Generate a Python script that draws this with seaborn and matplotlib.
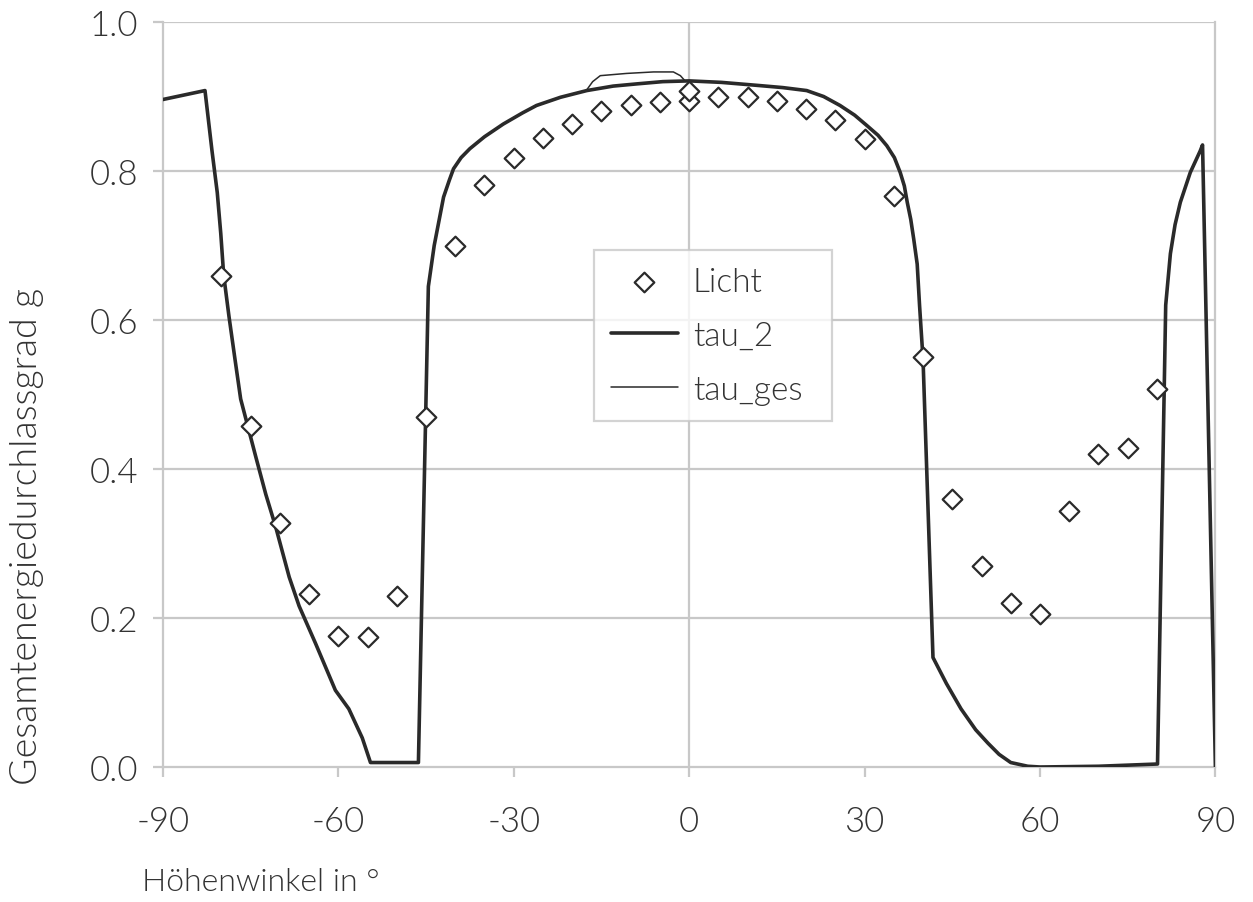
import numpy as np
import pandas as pd
import matplotlib
matplotlib.use('Agg')
import matplotlib.pyplot as plt
import seaborn as sns

# Licht (measured points)
licht_x = [-80, -75, -70, -65, -60, -55, -50, -45, -40, -35, -30, -25, -20, -15, -10, -5,
           0, 0, 5, 10, 15, 20, 25, 30, 35, 40, 45, 50, 55, 60, 65, 70, 75, 80]
licht_y = [0.659, 0.458, 0.327, 0.232, 0.176, 0.175, 0.229, 0.470, 0.699, 0.781, 0.818,
           0.844, 0.863, 0.881, 0.889, 0.892, 0.894, 0.908, 0.900, 0.900, 0.894, 0.883,
           0.868, 0.843, 0.767, 0.550, 0.360, 0.270, 0.220, 0.205, 0.343, 0.420, 0.428, 0.508]

# tau_2 curve
tau2_x = [-90, -82.8, -81.6, -80.7, -80.1, -79.6, -78.7, -77.7, -76.7, -75.6, -74.1, -72.4,
          -70.7, -68.4, -66.7, -63.9, -60.5, -58.2, -55.9, -54.5, -46.3, -44.6, -43.6, -42.0,
          -41.0, -40.3, -39.0, -37.5, -35.0, -31.8, -28.5, -26.1, -22.0, -17.5, -13.0, -8.9,
          -4.5, 0, 5.5, 11.6, 16.0, 20.1, 23.0, 25.8, 28.3, 30.4, 32.3, 33.8, 35.1, 36.1,
          36.8, 37.3, 37.9, 38.4, 39.0, 39.4, 40.0, 41.7, 44.0, 46.5, 49.0, 51.1, 53.0, 55.0,
          57.9, 60, 70, 80.1, 81.5, 82.3, 83.1, 84.0, 85.7, 87.4, 87.8, 90]
tau2_y = [0.896, 0.908, 0.827, 0.771, 0.716, 0.660, 0.605, 0.549, 0.494, 0.461, 0.416, 0.366,
          0.322, 0.255, 0.216, 0.166, 0.103, 0.078, 0.039, 0.006, 0.006, 0.645, 0.700, 0.765,
          0.788, 0.803, 0.818, 0.830, 0.846, 0.863, 0.878, 0.888, 0.899, 0.908, 0.914, 0.917,
          0.920, 0.921, 0.919, 0.915, 0.912, 0.908, 0.900, 0.888, 0.875, 0.861, 0.848, 0.834,
          0.818, 0.798, 0.780, 0.758, 0.735, 0.709, 0.675, 0.620, 0.547, 0.147, 0.112, 0.078,
          0.050, 0.032, 0.017, 0.006, 0.001, 0.000, 0.001, 0.004, 0.620, 0.689, 0.728, 0.758,
          0.798, 0.827, 0.835, 0.000]

# tau_ges: same as tau_2 except small bump near the top
bump_x = [-17.6, -16.5, -15.2, -10.7, -6.1, -2.7, -1.5, -0.7]
bump_y = [0.908, 0.920, 0.928, 0.931, 0.933, 0.933, 0.928, 0.921]

tau_ges = pd.concat([
    pd.DataFrame({'x': tau2_x, 'y': tau2_y}).query('x < -17.6 or x > -0.7'),
    pd.DataFrame({'x': bump_x, 'y': bump_y}),
]).sort_values('x')

sns.set_theme(style='white')
plt.rcParams['font.family'] = ['Lato', 'DejaVu Sans']
plt.rcParams['font.weight'] = 300
text_col = '#333333'
grid_col = '#c8c8c8'
line_col = '#2a2a2a'

fig, ax = plt.subplots(figsize=(12.53, 9.03), dpi=100)
fig.subplots_adjust(left=0.130, right=0.970, top=0.9745, bottom=0.1495)

# grid
for v in [0.2, 0.4, 0.6, 0.8, 1.0]:
    ax.axhline(v, color=grid_col, lw=1.6, zorder=0)
ax.axvline(0, color=grid_col, lw=1.6, zorder=0)

sns.scatterplot(x=licht_x, y=licht_y, marker='D', s=100, facecolor='white',
                edgecolor=line_col, linewidth=1.6, label='Licht', ax=ax, zorder=4)
sns.lineplot(x=tau2_x, y=tau2_y, sort=False, estimator=None, color=line_col, lw=2.6,
             label='tau_2', ax=ax, zorder=3)
sns.lineplot(data=tau_ges, x='x', y='y', sort=False, estimator=None, color=line_col,
             lw=1.1, label='tau_ges', ax=ax, zorder=3)

ax.set_xlim(-90, 90)
ax.set_ylim(0, 1.0)
ax.set_xticks([-90, -60, -30, 0, 30, 60, 90])
ax.set_xticklabels(['-90', '-60', '-30', '0', '30', '60', '90'])
ax.set_yticks([0.0, 0.2, 0.4, 0.6, 0.8, 1.0])
ax.set_yticklabels(['0.0', '0.2', '0.4', '0.6', '0.8', '1.0'])
ax.set_xlabel('')
ax.set_ylabel('')

for side in ['left', 'right', 'bottom', 'top']:
    ax.spines[side].set_color(grid_col)
    ax.spines[side].set_linewidth(1.6)
ax.spines['top'].set_visible(False)

ax.tick_params(axis='both', which='both', direction='out', length=7, width=1.6,
               color=grid_col, labelsize=25, labelcolor=text_col)
ax.tick_params(axis='x', pad=20, bottom=True)
ax.tick_params(axis='y', pad=11, left=True)

leg = ax.legend(loc='upper left', bbox_to_anchor=(0.41, 0.458, 0.226, 0.236), mode='expand',
                fontsize=24, frameon=True, fancybox=False, handlelength=2.0,
                handletextpad=0.45, labelspacing=0.72, borderpad=0.5, borderaxespad=0)
leg.get_frame().set_edgecolor(grid_col)
leg.get_frame().set_linewidth(1.6)
for t in leg.get_texts():
    t.set_color(text_col)

fig.text(142 / 1253, 1 - 883 / 903, 'Höhenwinkel in °', ha='left', va='center',
         fontsize=23, color=text_col)
fig.text(27 / 1253, 1 - 785 / 903, 'Gesamtenergiedurchlassgrad g', ha='center',
         va='bottom', rotation=90, fontsize=27, color=text_col)

fig.savefig('out.png', dpi=100)
